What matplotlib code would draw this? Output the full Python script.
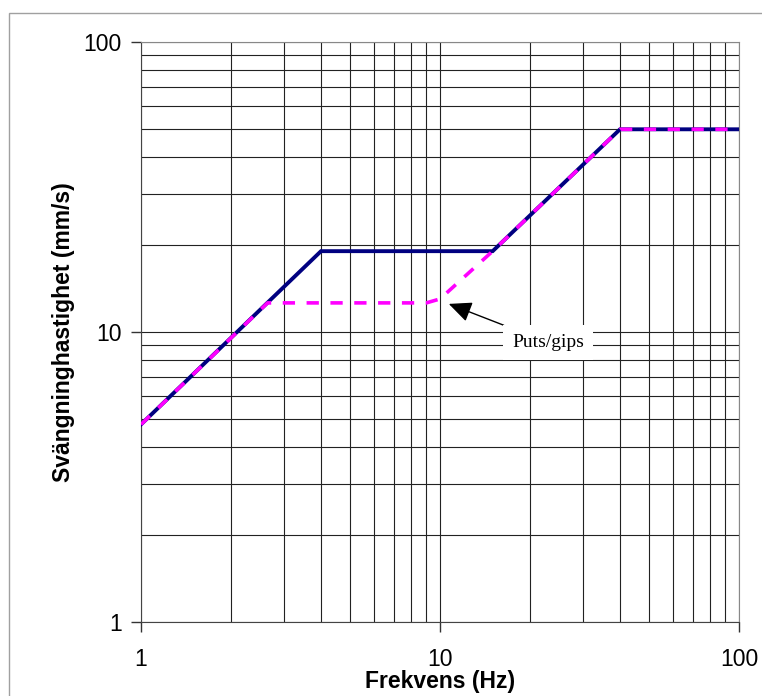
import matplotlib
matplotlib.use("Agg")
import matplotlib.pyplot as plt
from matplotlib.patches import Rectangle
from matplotlib.ticker import LogLocator, FixedLocator, NullFormatter

# ==================================================
# Data
# ==================================================
freq_limit = [1, 4, 15, 40, 100]
vel_limit = [4.8, 19, 19, 50, 50]

freq_puts = [1, 2.65, 9, 10, 15, 40, 100]
vel_puts = [4.8, 12.6, 12.6, 13, 19, 50, 50]

x_ticks = [1, 10, 100]
x_ticklabels = ["1", "10", "100"]
y_ticks = [1, 10, 100]
y_ticklabels = ["1", "10", "100"]

annot_text = "Puts/gips"
annot_xy = (10.7, 12.5)
annot_text_xy = (23, 9.2)

plt.rcParams["font.family"] = ["Liberation Sans", "DejaVu Sans"]

# ==================================================
# Figure & axes
# ==================================================
fig = plt.figure(figsize=(7.62, 6.96), dpi=100)
ax = fig.add_axes([141 / 762, 1 - 622 / 696, 598 / 762, 580 / 696])

# outer chart-area border (only top and left visible)
fig.patches.append(Rectangle((9 / 762, -0.1), 1.2, 1 - 13 / 696 + 0.1,
                             transform=fig.transFigure, fill=False,
                             edgecolor="#a0a0a0", linewidth=1.0))

ax.set_xscale("log")
ax.set_yscale("log")
ax.set_xlim(1, 100)
ax.set_ylim(1, 100)

# gridlines at every decade sub-step
ax.xaxis.set_minor_locator(LogLocator(base=10, subs=range(2, 10)))
ax.yaxis.set_minor_locator(LogLocator(base=10, subs=range(2, 10)))
ax.xaxis.set_minor_formatter(NullFormatter())
ax.yaxis.set_minor_formatter(NullFormatter())
ax.grid(True, which="both", color="#222222", linewidth=0.8)
ax.set_axisbelow(True)

ax.xaxis.set_major_locator(FixedLocator(x_ticks))
ax.yaxis.set_major_locator(FixedLocator(y_ticks))
ax.set_xticklabels(x_ticklabels)
ax.set_yticklabels(y_ticklabels)
ax.tick_params(which="major", length=7, width=1, color="#333333",
               labelsize=16.5, direction="out", pad=12)
ax.tick_params(axis="y", pad=7)
ax.tick_params(which="minor", length=0)

for side in ax.spines:
    ax.spines[side].set_color("#888888")
ax.spines["left"].set_color("#444444")
ax.spines["bottom"].set_color("#444444")

# ==================================================
# Lines
# ==================================================
ax.plot(freq_limit, vel_limit, color="#000080", linewidth=2.8,
        solid_joinstyle="miter", zorder=3)
ax.plot(freq_puts, vel_puts, color="#ff00ff", linewidth=2.6,
        linestyle=(0, (3.4, 3.2)), zorder=4)

ax.annotate(annot_text, xy=annot_xy, xytext=annot_text_xy,
            fontsize=14, family=["Liberation Serif", "DejaVu Serif"],
            ha="center", va="center",
            bbox=dict(boxstyle="square,pad=0.45", fc="white", ec="none"),
            arrowprops=dict(arrowstyle="-|>,head_length=1.0,head_width=0.45",
                            color="black", linewidth=1.0,
                            shrinkA=0, shrinkB=0),
            zorder=5)

# ==================================================
# Labels
# ==================================================
ax.set_xlabel("Frekvens (Hz)", fontsize=16.5, fontweight="bold", labelpad=-1)
ax.set_ylabel("Svängninghastighet (mm/s)", fontsize=16.5, fontweight="bold",
              labelpad=6)

fig.savefig("out.png", dpi=100)
